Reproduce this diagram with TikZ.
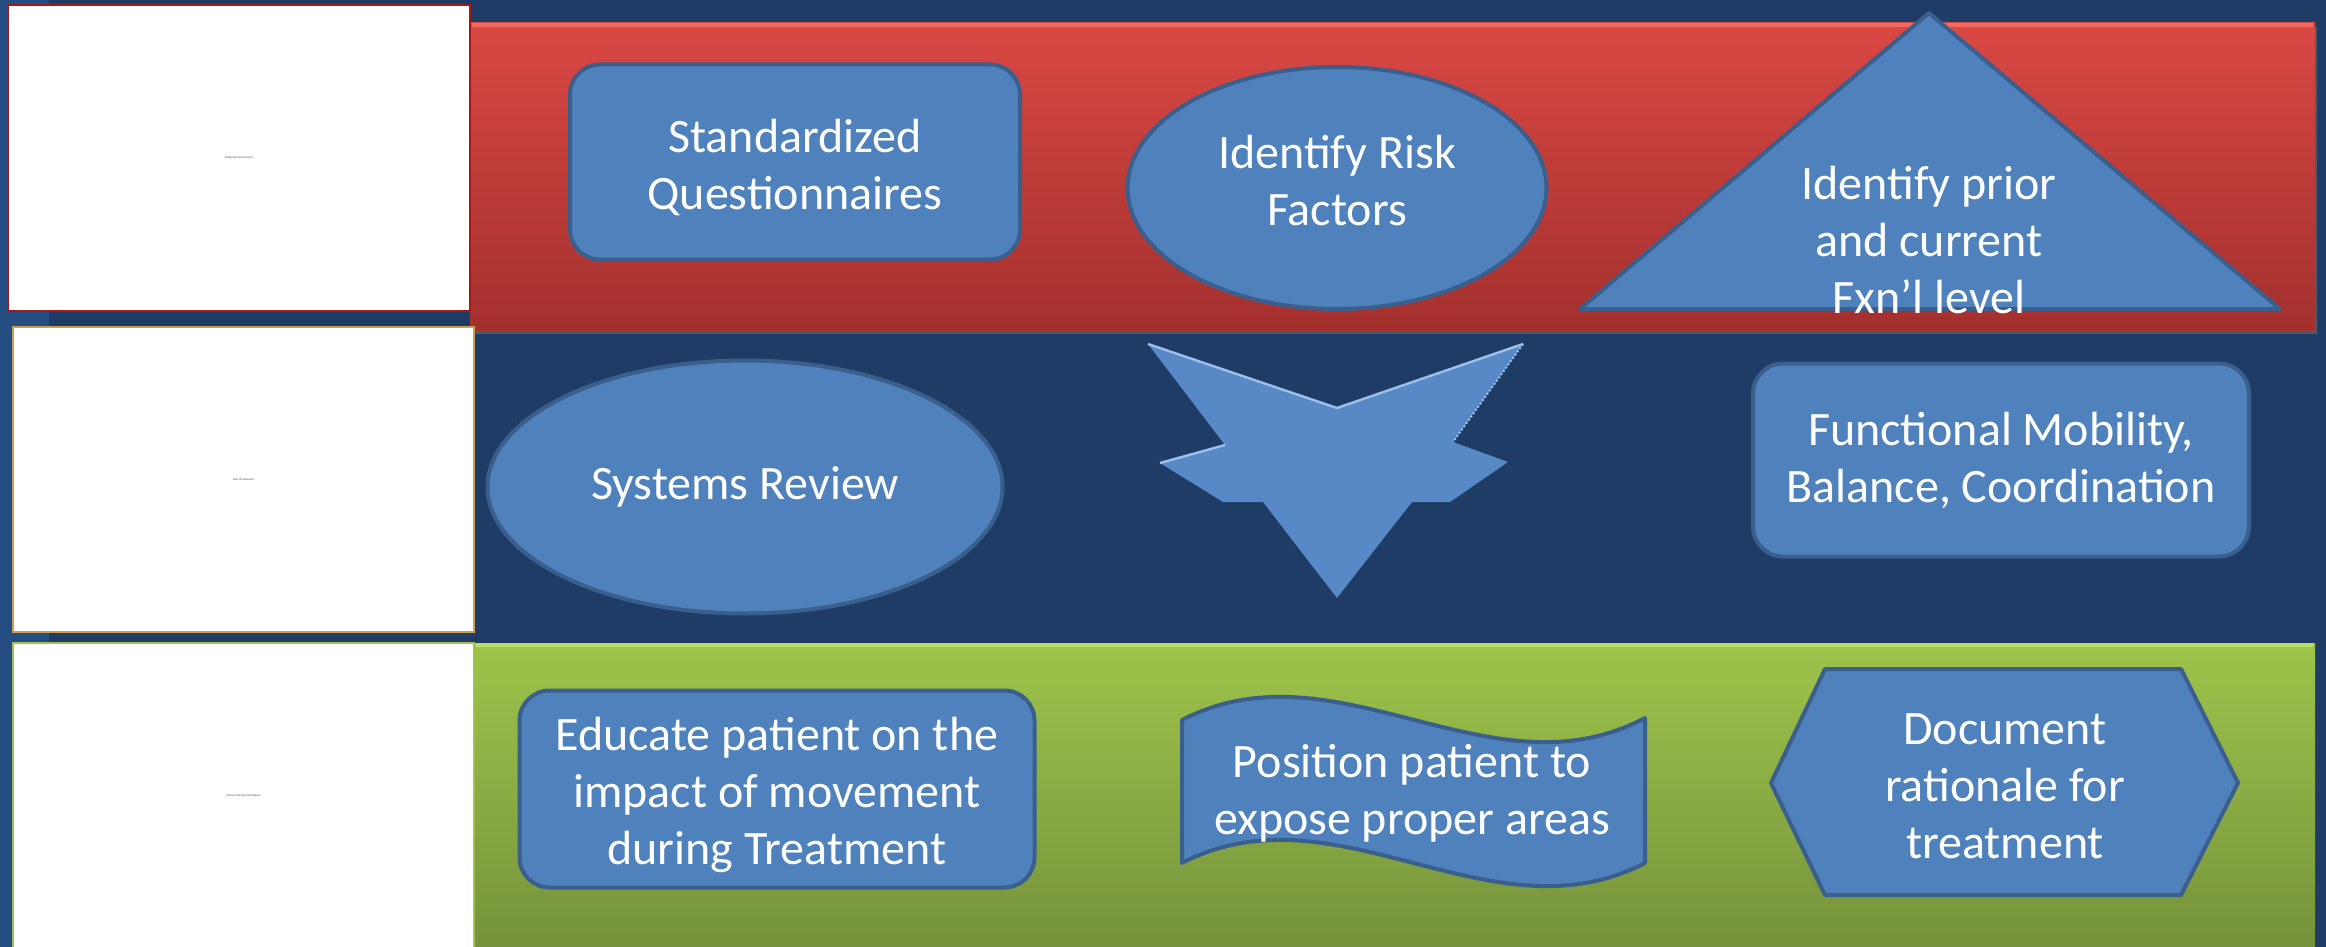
\documentclass[tikz,border=0pt]{standalone}
\usepackage{fontspec}
\setmainfont{Carlito}
\usetikzlibrary{shapes.geometric}
\usetikzlibrary{shadows}

\definecolor{slidebg}{HTML}{1F3C66}
\definecolor{slideedge}{HTML}{244D82}
\definecolor{shapefill}{HTML}{4F81BD}
\definecolor{shapeline}{HTML}{3A5F8D}
\definecolor{redtop}{HTML}{DA4844}
\definecolor{redbot}{HTML}{A3302D}
\definecolor{redhi}{HTML}{EE6A62}
\definecolor{greentop}{HTML}{9EC44B}
\definecolor{greenbot}{HTML}{74903A}
\definecolor{greenhi}{HTML}{B9E066}
\definecolor{tanline}{HTML}{C9A050}
\definecolor{arrowfill}{HTML}{5689C5}
\definecolor{arrowhi}{HTML}{9CC0EA}

\begin{document}
\begin{tikzpicture}
      [x=0.5pt,y=-0.5pt,
       thumb/.style={rectangle,fill=white,line width=1pt,inner sep=0pt,font=\fontsize{1.5}{2}\selectfont,text=black!70},
       card/.style={rectangle,rounded corners=15pt,fill=shapefill,draw=shapeline,line width=2pt,align=center,text=white},
       oval/.style={ellipse,fill=shapefill,draw=shapeline,line width=2pt,inner sep=0pt,align=center,text=white},
       blob/.style={fill=shapefill,draw=shapeline,line width=2pt,line join=round},
       blurb/.style={align=center,text=white,inner sep=0pt},
       every node/.append style={font=\fontsize{24}{28.5}\selectfont}]
      \useasboundingbox (0,0) rectangle (2326,947);
      % background and coloured bands
      \fill[slidebg] (0,0) rectangle (2326,947);
      \fill[slideedge] (0,0) rectangle (49,947);
      \shade[top color=redtop,bottom color=redbot,drop shadow={opacity=0.45,shadow xshift=1pt,shadow yshift=-2pt}]
        (470,23) rectangle (2315,330);
      \draw[redhi,line width=2pt] (472,25) -- (2313,25);
      \shade[top color=greentop,bottom color=greenbot] (474,643) rectangle (2315,960);
      \draw[greenhi,line width=2pt] (476,645) -- (2313,645);
      % white thumbnails on the left
      \node[thumb,draw=red!60!black!90,minimum width=231pt,minimum height=153pt] (subj) at (239,158) {Subjective Assessment};
      \node[thumb,draw=tanline,minimum width=230.5pt,minimum height=152.5pt] (tests) at (243.5,479.5) {Tests \& Measures};
      \node[thumb,draw=greentop,minimum width=230.5pt,minimum height=153pt] (manual) at (243.5,796) {Manual Therapy Techniques};
      % first row
      \node[card,minimum width=225pt,minimum height=97.5pt] (quest) at (795,162) {};
      \node[blurb] (questtext) at ([yshift=-3pt]quest.center) {Standardized\\Questionnaires};
      \node[oval,minimum width=209.5pt,minimum height=121pt] (risk) at (1337,188) {};
      \node[blurb] (risktext) at ([yshift=3.5pt]risk.center) {Identify Risk\\Factors};
      \draw[blob] (1929,13) -- (2280,309) -- (1580,309) -- cycle;
      \node[blurb] (prior) at (1929,240) {Identify prior\\and current\\Fxn’l level};
      % second row
      \node[oval,minimum width=257.5pt,minimum height=126.5pt] (systems) at (745,487) {Systems Review};
      \fill[arrowfill] (1148,344) -- (1337,408) -- (1523,344) -- (1453,442) -- (1508,462) -- (1450,502)
        -- (1412,502) -- (1337,598) -- (1263,502) -- (1223,502) -- (1160,463) -- (1225,445) -- cycle;
      \draw[arrowhi,line width=1.2pt] (1148,344) -- (1337,408) -- (1523,344);
      \draw[arrowhi,line width=1pt,densely dotted] (1523,344) -- (1453,442);
      \draw[arrowhi,line width=1.2pt] (1160,463) -- (1225,445);
      \node[card,minimum width=248pt,minimum height=96.5pt] (mobility) at (2001,460) {Functional Mobility,\\Balance, Coordination};
      % third row
      \node[card,minimum width=257.5pt,minimum height=98.5pt] (educate) at (777,789) {};
      \node[blurb] (educatetext) at ([yshift=-3pt]educate.center) {Educate patient on the\\impact of movement\\during Treatment};
      \draw[blob] (1182,720) .. controls (1337,640) and (1490,800) .. (1645,718) -- (1645,863)
        .. controls (1490,943) and (1337,783) .. (1182,863) -- cycle;
      \node[blurb] (position) at (1412,793) {Position patient to\\expose proper areas};
      \draw[blob] (1771,783) -- (1825,669) -- (2181,669) -- (2238,783) -- (2181,895) -- (1825,895) -- cycle;
      \node[blurb] (document) at (2005,786) {Document\\rationale for\\treatment};
    \end{tikzpicture}
\end{document}
